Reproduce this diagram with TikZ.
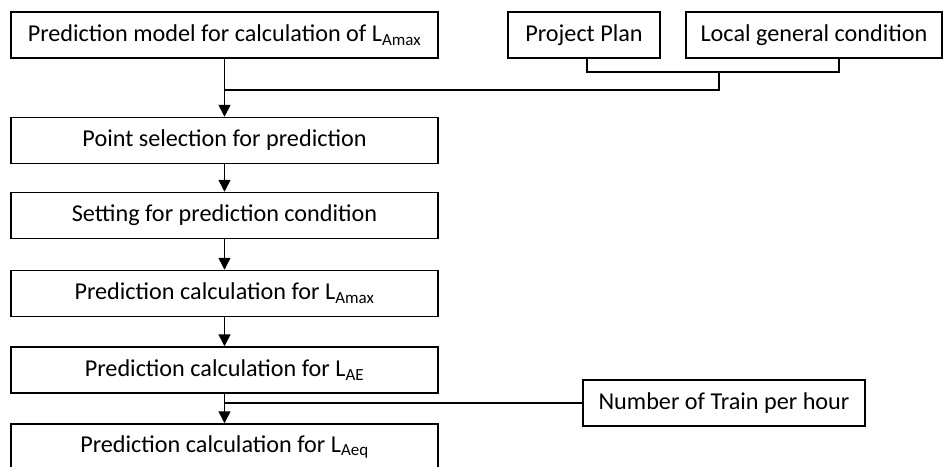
\documentclass[tikz,border=0pt]{standalone}
\usepackage{fontspec}
\setmainfont{Carlito}
\usepackage{tikz}
\usetikzlibrary{calc}
\usetikzlibrary{arrows.meta}
\newcommand\Lsub[1]{L\textsubscript{#1}}

\tikzset{
  box/.style={draw=black, line width=1.5pt, minimum height=46pt, inner sep=0pt, font=\fontsize{24.2}{28}\selectfont},
  mainbox/.style={box, minimum width=427pt},
  conn/.style={black, line width=1.5pt},
  arr/.style={conn, -{Triangle[width=12pt,length=12pt]}}
}

\begin{document}
\begin{tikzpicture}[x=1pt,y=-1pt]

\useasboundingbox (0,0) rectangle (944,466);

\node[mainbox] (model) at (224.5,35) {Prediction model for calculation of \Lsub{Amax}};
\node[box, minimum width=152pt] (plan) at (584,35) {Project Plan};
\node[box, minimum width=256pt] (local) at (814,35) {Local general condition};

\node[mainbox] (point) at (224.5,140.5) {Point selection for prediction};
\node[mainbox] (setting) at (224.5,215.5) {Setting for prediction condition};
\node[mainbox] (amax) at (224.5,293.5) {Prediction calculation for \Lsub{Amax}};
\node[mainbox] (ae) at (224.5,370) {Prediction calculation for \Lsub{AE}};
\node[mainbox] (aeq) at (224.5,447) {Prediction calculation for \Lsub{Aeq}};

\node[box, minimum width=282pt] (train) at (724,403) {Number of Train per hour};

\coordinate (brk) at (719,72);
\coordinate (join) at (719,90);

% inputs joining the main column
\draw[conn] ([xshift=3]plan.south) |- (brk) -| ([xshift=25]local.south);
\draw[conn] (brk) -- (join) -- (join -| model.south);
\draw[conn] (train.west) -- (train.west -| ae.south);

% main flow
\draw[arr] (model.south) -- (point.north);
\draw[arr] (point.south) -- (setting.north);
\draw[arr] (setting.south) -- (amax.north);
\draw[arr] (amax.south) -- (ae.north);
\draw[arr] (ae.south) -- (aeq.north);

\end{tikzpicture}
\end{document}
